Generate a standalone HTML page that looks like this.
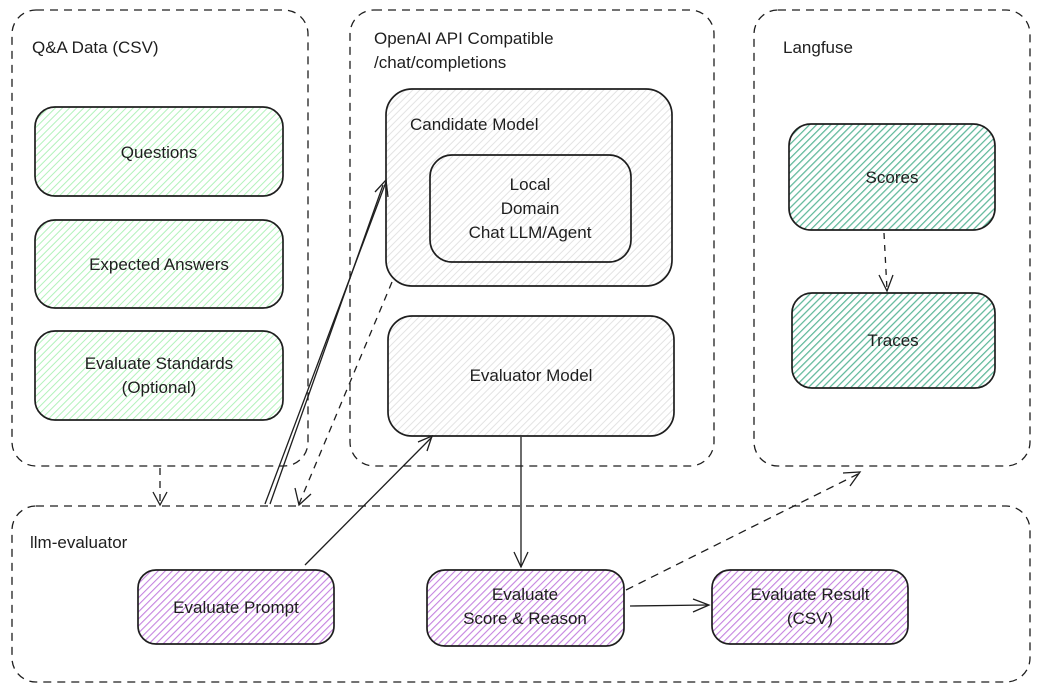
<!DOCTYPE html>
<html><head><meta charset="utf-8"><style>
html,body{margin:0;padding:0;background:#fff;}
svg{display:block;}
text{font-family:"Liberation Sans","DejaVu Sans",sans-serif;fill:#1e1e1e;font-size:17px;}
</style></head><body>
<svg width="1040" height="692" viewBox="0 0 1040 692" xmlns="http://www.w3.org/2000/svg">
<defs>
<pattern id="hg" width="5" height="5" patternUnits="userSpaceOnUse" patternTransform="rotate(45)"><rect width="5" height="5" fill="#fff"/><line x1="0" y1="0" x2="0" y2="5" stroke="#b2f2bb" stroke-width="2"/></pattern>
<pattern id="ht" width="5" height="5" patternUnits="userSpaceOnUse" patternTransform="rotate(45)"><rect width="5" height="5" fill="#fff"/><line x1="0" y1="0" x2="0" y2="5" stroke="#5fb89a" stroke-width="2.5"/></pattern>
<pattern id="hp" width="5" height="5" patternUnits="userSpaceOnUse" patternTransform="rotate(45)"><rect width="5" height="5" fill="#fff"/><line x1="0" y1="0" x2="0" y2="5" stroke="#c583e0" stroke-width="2.2"/></pattern>
<pattern id="hy" width="5" height="5" patternUnits="userSpaceOnUse" patternTransform="rotate(45)"><rect width="5" height="5" fill="#fff"/><line x1="0" y1="0" x2="0" y2="5" stroke="#e3e3e3" stroke-width="2"/></pattern>
</defs>
<g fill="none" stroke="#1e1e1e" stroke-width="1.3" stroke-dasharray="8 6">
<rect x="12" y="10" width="296" height="456" rx="24"/>
<rect x="350" y="10" width="364" height="456" rx="24"/>
<rect x="754" y="10" width="276" height="456" rx="24"/>
<rect x="12" y="506" width="1018" height="176" rx="24"/>
</g>
<g stroke="#1e1e1e" stroke-width="1.7">
<rect x="35" y="107" width="248" height="89" rx="20" fill="url(#hg)"/>
<rect x="35" y="220" width="248" height="88" rx="20" fill="url(#hg)"/>
<rect x="35" y="331" width="248" height="89" rx="20" fill="url(#hg)"/>
<rect x="386" y="89" width="286" height="197" rx="26" fill="url(#hy)"/>
<rect x="430" y="155" width="201" height="107" rx="22" fill="url(#hy)"/>
<rect x="388" y="316" width="286" height="120" rx="24" fill="url(#hy)"/>
<rect x="789" y="124" width="206" height="106" rx="22" fill="url(#ht)"/>
<rect x="792" y="293" width="203" height="95" rx="20" fill="url(#ht)"/>
<rect x="138" y="570" width="196" height="74" rx="18" fill="url(#hp)"/>
<rect x="427" y="570" width="197" height="76" rx="18" fill="url(#hp)"/>
<rect x="712" y="570" width="196" height="74" rx="18" fill="url(#hp)"/>
</g>
<g fill="none" stroke="#1e1e1e" stroke-width="1.3">
<path d="M160 468 L160 504" stroke-dasharray="7 6"/><path d="M153 492 L160 505 L167 492"/>
<path d="M265 504 L386 182"/><path d="M375 192 L386 180 L388 197"/>
<path d="M270 504 L383 185"/>
<path d="M392 282 L299 504" stroke-dasharray="7 6"/><path d="M295 488 L299 505 L311 494"/>
<path d="M305 565 L432 437"/><path d="M418 442 L432 436 L427 451"/>
<path d="M521 437 L521 567"/><path d="M514 552 L521 567 L528 552"/>
<path d="M626 590 L858 474" stroke-dasharray="8 6"/><path d="M843 473 L860 472 L850 486"/>
<path d="M630 606 L708 605"/><path d="M693 599 L709 605 L693 612"/>
<path d="M884 233 L887 290" stroke-dasharray="6 6"/><path d="M879 275 L887 291 L893 275"/>
</g>
<text x="32" y="53">Q&amp;A Data (CSV)</text>
<text x="374" y="44">OpenAI API Compatible</text>
<text x="374" y="68">/chat/completions</text>
<text x="783" y="53">Langfuse</text>
<text x="30" y="548">llm-evaluator</text>
<text x="410" y="130">Candidate Model</text>
<g text-anchor="middle">
<text x="159" y="158">Questions</text>
<text x="159" y="270">Expected Answers</text>
<text x="159" y="369">Evaluate Standards</text>
<text x="159" y="393">(Optional)</text>
<text x="530" y="190">Local</text>
<text x="530" y="214">Domain</text>
<text x="530" y="238">Chat LLM/Agent</text>
<text x="531" y="381">Evaluator Model</text>
<text x="892" y="183">Scores</text>
<text x="893" y="346">Traces</text>
<text x="236" y="613">Evaluate Prompt</text>
<text x="525" y="600">Evaluate</text>
<text x="525" y="624">Score &amp; Reason</text>
<text x="810" y="600">Evaluate Result</text>
<text x="810" y="624">(CSV)</text>
</g>
</svg>
</body></html>
